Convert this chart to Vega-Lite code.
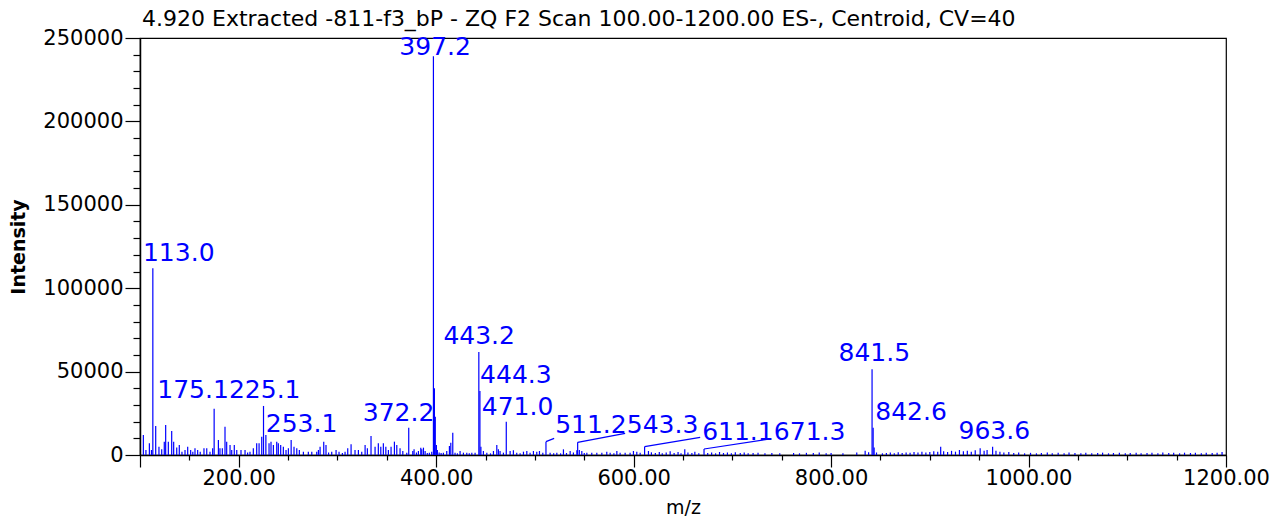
{
  "$schema": "https://vega.github.io/schema/vega-lite/v6.json",
  "autosize": {"type": "none"},
  "width": 1086,
  "height": 417,
  "padding": {"left": 140, "top": 38, "right": 48, "bottom": 65},
  "background": "white",
  "title": {
    "text": "4.920 Extracted -811-f3_bP - ZQ F2 Scan 100.00-1200.00 ES-, Centroid, CV=40",
    "anchor": "start",
    "frame": "group",
    "font": "DejaVu Sans",
    "fontSize": 22,
    "fontWeight": "normal",
    "color": "#000000",
    "offset": -4,
    "dx": 2
  },
  "config": {
    "view": {"stroke": "#000000", "strokeWidth": 1.2},
    "axis": {
      "labelFont": "DejaVu Sans",
      "titleFont": "DejaVu Sans",
      "labelColor": "#000000",
      "titleColor": "#000000",
      "domainColor": "#000000",
      "tickColor": "#000000",
      "grid": false
    }
  },
  "datasets": {
    "peaks": [
      {"mz":103.4,"intensity":12000},{"mz":106,"intensity":3000},{"mz":109.5,"intensity":7000},{"mz":111.6,"intensity":3000},
      {"mz":113.0,"intensity":112000},{"mz":115.9,"intensity":17400},{"mz":119.2,"intensity":5000},{"mz":122,"intensity":3400},
      {"mz":124.6,"intensity":8000},{"mz":126,"intensity":18000},{"mz":128.7,"intensity":8000},{"mz":132.1,"intensity":14400},
      {"mz":134.1,"intensity":8000},{"mz":137.2,"intensity":4500},{"mz":139.8,"intensity":6000},{"mz":142.5,"intensity":2000},
      {"mz":145.6,"intensity":3000},{"mz":148.3,"intensity":5000},{"mz":151.3,"intensity":3000},{"mz":153.5,"intensity":2000},
      {"mz":155.7,"intensity":4000},{"mz":158.4,"intensity":3000},{"mz":161,"intensity":2000},{"mz":164.8,"intensity":4000},
      {"mz":167.6,"intensity":4000},{"mz":170.9,"intensity":2000},{"mz":173.6,"intensity":4000},{"mz":175.1,"intensity":27800},
      {"mz":179.4,"intensity":9000},{"mz":181,"intensity":4000},{"mz":183.4,"intensity":4000},{"mz":186.1,"intensity":17000},
      {"mz":187.8,"intensity":8000},{"mz":191.2,"intensity":6000},{"mz":192.9,"intensity":3000},{"mz":195.5,"intensity":6000},
      {"mz":198,"intensity":3000},{"mz":202.3,"intensity":3000},{"mz":206.4,"intensity":3000},{"mz":209,"intensity":1500},
      {"mz":211.4,"intensity":2000},{"mz":214.8,"intensity":4000},{"mz":218.2,"intensity":7000},{"mz":220.6,"intensity":7000},
      {"mz":223.3,"intensity":11000},{"mz":225.1,"intensity":29400},{"mz":227.5,"intensity":12000},{"mz":230.7,"intensity":7000},
      {"mz":232.7,"intensity":8000},{"mz":235.1,"intensity":6000},{"mz":238.5,"intensity":8000},{"mz":240.1,"intensity":7000},
      {"mz":242.5,"intensity":6000},{"mz":245.2,"intensity":5000},{"mz":247.9,"intensity":3000},{"mz":250.3,"intensity":4000},
      {"mz":253.1,"intensity":9000},{"mz":256,"intensity":5000},{"mz":258.8,"intensity":4000},{"mz":261.4,"intensity":3000},
      {"mz":265.5,"intensity":2000},{"mz":270.5,"intensity":2000},{"mz":274,"intensity":2000},{"mz":279,"intensity":2000},
      {"mz":280.7,"intensity":3000},{"mz":282.4,"intensity":5000},{"mz":286.1,"intensity":8000},{"mz":288.4,"intensity":6000},
      {"mz":291,"intensity":1500},{"mz":294.2,"intensity":2000},{"mz":298.6,"intensity":3000},{"mz":301.6,"intensity":2000},
      {"mz":305,"intensity":1200},{"mz":307.7,"intensity":2000},{"mz":310.4,"intensity":4000},{"mz":313.8,"intensity":6500},
      {"mz":317.8,"intensity":3000},{"mz":321.2,"intensity":3000},{"mz":324.6,"intensity":2000},{"mz":328,"intensity":6000},
      {"mz":330.3,"intensity":4000},{"mz":334,"intensity":11400},{"mz":338.1,"intensity":5000},{"mz":341.4,"intensity":7000},
      {"mz":343.9,"intensity":5000},{"mz":346.5,"intensity":7000},{"mz":349,"intensity":5000},{"mz":351.6,"intensity":3000},
      {"mz":354.3,"intensity":5000},{"mz":357.7,"intensity":8000},{"mz":360.1,"intensity":6000},{"mz":363.4,"intensity":4000},
      {"mz":366.2,"intensity":2400},{"mz":370.2,"intensity":1400},{"mz":372.2,"intensity":16400},{"mz":376.3,"intensity":2400},
      {"mz":377.6,"intensity":3400},{"mz":380,"intensity":1500},{"mz":382,"intensity":2400},{"mz":384.4,"intensity":4400},
      {"mz":385.4,"intensity":3400},{"mz":387.1,"intensity":4400},{"mz":388.8,"intensity":2400},{"mz":391,"intensity":1200},
      {"mz":393.1,"intensity":1400},{"mz":395.5,"intensity":2000},{"mz":397.2,"intensity":239000},{"mz":398.2,"intensity":40000},
      {"mz":399.1,"intensity":23000},{"mz":400.2,"intensity":6000},{"mz":401.2,"intensity":3000},{"mz":403,"intensity":1500},
      {"mz":405,"intensity":1200},{"mz":407.3,"intensity":1400},{"mz":410.7,"intensity":2400},{"mz":413.4,"intensity":5400},
      {"mz":414.8,"intensity":7400},{"mz":416.8,"intensity":13400},{"mz":419.1,"intensity":1400},{"mz":421.5,"intensity":1000},
      {"mz":424.2,"intensity":2400},{"mz":427.6,"intensity":1400},{"mz":431,"intensity":1400},{"mz":433.5,"intensity":1000},
      {"mz":436.1,"intensity":1400},{"mz":439.4,"intensity":1400},{"mz":443.2,"intensity":61700},{"mz":444.3,"intensity":38400},
      {"mz":445.3,"intensity":5000},{"mz":447.8,"intensity":2400},{"mz":451.3,"intensity":1400},{"mz":455,"intensity":1000},
      {"mz":458,"intensity":2400},{"mz":461.4,"intensity":6000},{"mz":463,"intensity":3400},{"mz":464.7,"intensity":2400},
      {"mz":468.1,"intensity":1400},{"mz":471.0,"intensity":20000},{"mz":474.9,"intensity":2400},{"mz":478.2,"intensity":2800},
      {"mz":481.6,"intensity":1400},{"mz":485,"intensity":1000},{"mz":488.4,"intensity":2000},{"mz":491.8,"intensity":2400},
      {"mz":495.1,"intensity":1400},{"mz":498.5,"intensity":2400},{"mz":501.9,"intensity":2000},{"mz":504.6,"intensity":2400},
      {"mz":508,"intensity":1400},{"mz":511.2,"intensity":8000},{"mz":515.4,"intensity":1400},{"mz":519,"intensity":1000},
      {"mz":522.2,"intensity":1400},{"mz":526,"intensity":1000},{"mz":528.9,"intensity":3400},{"mz":532,"intensity":1200},
      {"mz":535.7,"intensity":2400},{"mz":539,"intensity":1500},{"mz":542.5,"intensity":2800},{"mz":543.3,"intensity":7600},
      {"mz":545,"intensity":3000},{"mz":547.5,"intensity":2400},{"mz":550,"intensity":1200},{"mz":552.6,"intensity":1400},
      {"mz":557.6,"intensity":1400},{"mz":562.7,"intensity":1400},{"mz":567.8,"intensity":1400},{"mz":572.8,"intensity":2000},
      {"mz":576.2,"intensity":1400},{"mz":580,"intensity":1000},{"mz":583,"intensity":2400},{"mz":586.3,"intensity":1400},
      {"mz":591.4,"intensity":1400},{"mz":596.4,"intensity":1400},{"mz":599.8,"intensity":2400},{"mz":603.2,"intensity":2000},
      {"mz":606.6,"intensity":1400},{"mz":611.1,"intensity":5000},{"mz":615,"intensity":2400},{"mz":618,"intensity":1600},
      {"mz":622,"intensity":1200},{"mz":626,"intensity":1800},{"mz":629,"intensity":1000},{"mz":633,"intensity":1500},
      {"mz":637,"intensity":2200},{"mz":641,"intensity":1200},{"mz":645,"intensity":1800},{"mz":648,"intensity":1000},
      {"mz":651.8,"intensity":3400},{"mz":655,"intensity":1500},{"mz":659,"intensity":1200},{"mz":662,"intensity":2000},
      {"mz":666,"intensity":1000},{"mz":671.3,"intensity":3600},{"mz":675,"intensity":1200},{"mz":679,"intensity":1500},
      {"mz":683,"intensity":1000},{"mz":687,"intensity":1800},{"mz":691,"intensity":1200},{"mz":695,"intensity":1500},
      {"mz":699,"intensity":1000},{"mz":703,"intensity":1600},{"mz":708,"intensity":1200},{"mz":712,"intensity":1500},
      {"mz":716,"intensity":1000},{"mz":721,"intensity":1200},{"mz":726,"intensity":1400},{"mz":733,"intensity":1000},
      {"mz":740,"intensity":1200},{"mz":748,"intensity":1000},{"mz":762,"intensity":1200},{"mz":768,"intensity":1000},
      {"mz":775,"intensity":1300},{"mz":782,"intensity":1200},{"mz":788,"intensity":1500},{"mz":795,"intensity":1000},
      {"mz":800,"intensity":1200},{"mz":812,"intensity":1000},{"mz":826,"intensity":1500},{"mz":834.5,"intensity":2500},
      {"mz":838,"intensity":1600},{"mz":841.5,"intensity":51400},{"mz":842.6,"intensity":16400},{"mz":843.6,"intensity":4500},
      {"mz":846,"intensity":1500},{"mz":852,"intensity":1000},{"mz":856,"intensity":1200},{"mz":860,"intensity":1500},
      {"mz":864,"intensity":1000},{"mz":868,"intensity":1600},{"mz":872,"intensity":1200},{"mz":876,"intensity":1500},
      {"mz":880,"intensity":1300},{"mz":884,"intensity":1800},{"mz":888,"intensity":1500},{"mz":892,"intensity":2000},
      {"mz":896,"intensity":1500},{"mz":900,"intensity":1800},{"mz":904,"intensity":2200},{"mz":908,"intensity":2000},
      {"mz":911,"intensity":5000},{"mz":914,"intensity":2200},{"mz":918,"intensity":1800},{"mz":922,"intensity":2500},
      {"mz":926,"intensity":2000},{"mz":930,"intensity":3000},{"mz":934,"intensity":2200},{"mz":938,"intensity":2500},
      {"mz":942,"intensity":2000},{"mz":946,"intensity":2800},{"mz":951,"intensity":4000},{"mz":955,"intensity":2500},
      {"mz":958,"intensity":3000},{"mz":963.6,"intensity":5000},{"mz":967,"intensity":2500},{"mz":971,"intensity":2000},
      {"mz":975,"intensity":1500},{"mz":980,"intensity":1800},{"mz":985,"intensity":1200},{"mz":990,"intensity":1500},
      {"mz":996,"intensity":1000},{"mz":1002,"intensity":1300},{"mz":1008,"intensity":1000},{"mz":1013,"intensity":1200},
      {"mz":1019,"intensity":1500},{"mz":1024,"intensity":1000},{"mz":1030,"intensity":1300},{"mz":1036,"intensity":1000},
      {"mz":1041,"intensity":1500},{"mz":1047,"intensity":1200},{"mz":1053,"intensity":1000},{"mz":1058,"intensity":1300},
      {"mz":1064,"intensity":1000},{"mz":1070,"intensity":1200},{"mz":1075,"intensity":1400},{"mz":1081,"intensity":1000},
      {"mz":1086,"intensity":1200},{"mz":1092,"intensity":1300},{"mz":1098,"intensity":1000},{"mz":1103,"intensity":1200},
      {"mz":1109,"intensity":1400},{"mz":1114,"intensity":1000},{"mz":1120,"intensity":1200},{"mz":1125,"intensity":1300},
      {"mz":1131,"intensity":1000},{"mz":1136,"intensity":1500},{"mz":1142,"intensity":1200},{"mz":1147,"intensity":1300},
      {"mz":1153,"intensity":1000},{"mz":1158,"intensity":1400},{"mz":1164,"intensity":1200},{"mz":1169,"intensity":1300},
      {"mz":1175,"intensity":1000},{"mz":1180,"intensity":1400},{"mz":1186,"intensity":1200},{"mz":1191,"intensity":1300},
      {"mz":1196,"intensity":1800}
    ],
    "labels": [
      {"label":"113.0","lx":103.0,"ly":121100},
      {"label":"397.2","lx":362.7,"ly":244600},
      {"label":"175.1","lx":117.5,"ly":39000},
      {"label":"225.1","lx":190.1,"ly":39000},
      {"label":"253.1","lx":227.4,"ly":18600},
      {"label":"372.2","lx":325.6,"ly":25200},
      {"label":"443.2","lx":407.3,"ly":71500},
      {"label":"444.3","lx":444.5,"ly":48000},
      {"label":"471.0","lx":446.2,"ly":29000},
      {"label":"511.2","lx":520.5,"ly":18000},
      {"label":"543.3","lx":593.0,"ly":18000},
      {"label":"611.1","lx":669.4,"ly":13500},
      {"label":"671.3","lx":742.0,"ly":13500},
      {"label":"841.5","lx":807.5,"ly":61000},
      {"label":"842.6","lx":844.7,"ly":26000},
      {"label":"963.6","lx":929.1,"ly":14400}
    ],
    "leaders": [
      {"x1":511.2,"y1":8000,"x2":519.5,"y2":10000},
      {"x1":543.3,"y1":7600,"x2":591.4,"y2":13000},
      {"x1":611.1,"y1":5000,"x2":667.4,"y2":10600},
      {"x1":671.3,"y1":3600,"x2":735.0,"y2":9400}
    ]
  },
  "layer": [
    {
      "data": {"name": "peaks"},
      "mark": {"type": "rule", "color": "#0000ff", "strokeWidth": 1.2},
      "encoding": {
        "x": {
          "field": "mz", "type": "quantitative",
          "scale": {"domain": [100, 1200], "nice": false, "zero": false},
          "axis": {
            "orient": "bottom",
            "values": [100, 200, 400, 600, 800, 1000, 1200],
            "labelExpr": "datum.value == 100 ? '' : format(datum.value, '.2f')",
            "tickSize": 12, "tickWidth": 1.2, "domainWidth": 1.5,
            "labelFontSize": 21, "labelPadding": 0, "labelFlush": false, "labelOverlap": false,
            "title": "m/z", "titleFontSize": 19, "titleFontWeight": "normal", "titlePadding": 10
          }
        },
        "y": {
          "field": "intensity", "type": "quantitative",
          "scale": {"domain": [0, 250000], "nice": false},
          "axis": {
            "orient": "left",
            "values": [0, 50000, 100000, 150000, 200000, 250000],
            "format": "d",
            "tickSize": 15, "tickWidth": 1.2, "domainWidth": 1.5,
            "labelFontSize": 21, "labelPadding": 2, "labelFlush": false, "labelOverlap": false,
            "title": "Intensity", "titleFontSize": 19, "titleFontWeight": "bold", "titlePadding": 14
          }
        },
        "y2": {"datum": 0}
      }
    },
    {
      "mark": {"type": "rule", "color": "#0000ff", "strokeWidth": 2},
      "encoding": {
        "y": {"datum": 0, "type": "quantitative", "scale": {"domain": [0, 250000], "nice": false}, "axis": null}
      }
    },
    {
      "data": {"name": "leaders"},
      "mark": {"type": "rule", "color": "#0000ff", "strokeWidth": 1.2},
      "encoding": {
        "x": {"field": "x1", "type": "quantitative", "scale": {"domain": [100, 1200], "nice": false, "zero": false}, "axis": null},
        "y": {"field": "y1", "type": "quantitative", "scale": {"domain": [0, 250000], "nice": false}, "axis": null},
        "x2": {"field": "x2"},
        "y2": {"field": "y2"}
      }
    },
    {
      "data": {"name": "labels"},
      "mark": {"type": "text", "color": "#0000ff", "font": "DejaVu Sans", "fontSize": 25, "align": "left", "baseline": "middle"},
      "encoding": {
        "x": {
          "field": "lx", "type": "quantitative",
          "scale": {"domain": [100, 1200], "nice": false, "zero": false},
          "axis": {
            "orient": "bottom",
            "values": [150, 250, 300, 350, 450, 500, 550, 650, 700, 750, 850, 900, 950, 1050, 1100, 1150],
            "labels": false, "domain": false, "tickSize": 5, "tickWidth": 1.2, "title": null
          }
        },
        "y": {
          "field": "ly", "type": "quantitative",
          "scale": {"domain": [0, 250000], "nice": false},
          "axis": {
            "orient": "left",
            "values": [10000, 20000, 30000, 40000, 60000, 70000, 80000, 90000, 110000, 120000, 130000, 140000, 160000, 170000, 180000, 190000, 210000, 220000, 230000, 240000],
            "labels": false, "domain": false, "tickSize": 7, "tickWidth": 1.2, "title": null
          }
        },
        "text": {"field": "label"}
      }
    }
  ],
  "resolve": {"axis": {"x": "independent", "y": "independent"}}
}
